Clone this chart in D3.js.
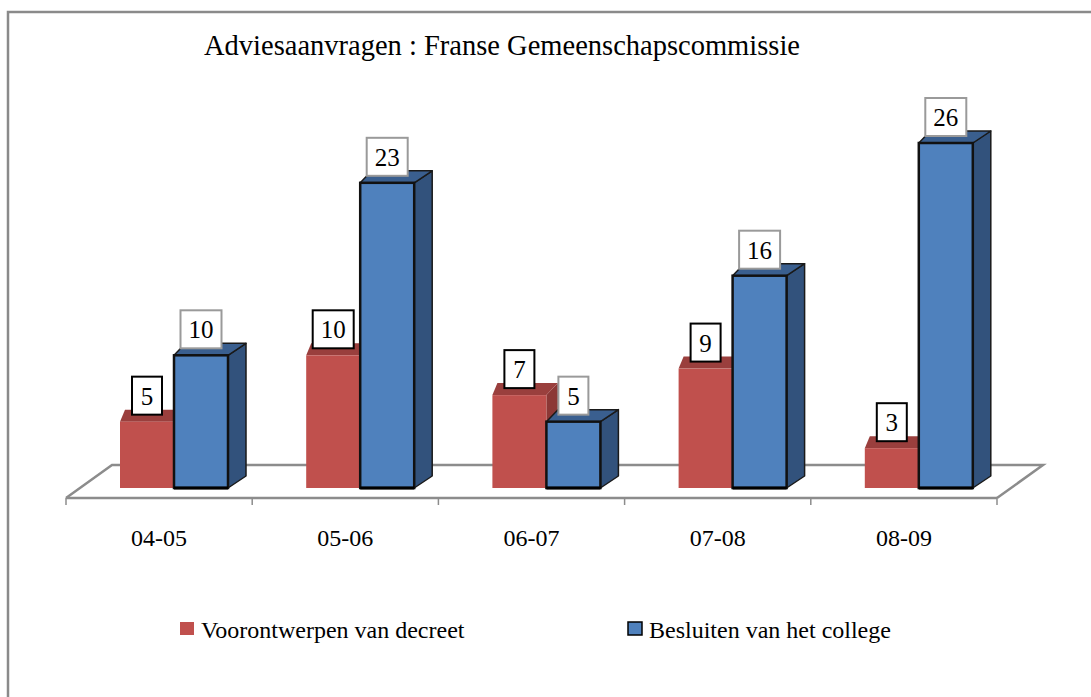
<!DOCTYPE html>
<html>
<head>
<meta charset="utf-8">
<script src="https://cdn.jsdelivr.net/npm/d3@7"></script>
<style>
  body { margin: 0; background: #fff; }
</style>
</head>
<body>
<div id="vis"></div>
<script>
// data
const categories = ["04-05", "05-06", "06-07", "07-08", "08-09"];
const seriesNames = ["Voorontwerpen van decreet", "Besluiten van het college"];
const voorontwerpen = [5, 10, 7, 9, 3];
const besluiten = [10, 23, 5, 16, 26];
const titleText = "Adviesaanvragen : Franse Gemeenschapscommissie";

const WIDTH = 1091;
const HEIGHT = 697;
const FONT = "'Liberation Serif', 'Times New Roman', serif";

const SVG = d3.select("#vis").append("svg")
  .attr("width", WIDTH).attr("height", HEIGHT)
  .attr("font-family", FONT)
  .style("font-family", FONT);

// frame (only top and left edge visible)
SVG.append("path")
  .attr("d", `M8,${HEIGHT} L8,12 L${WIDTH},12`)
  .attr("fill", "none").attr("stroke", "#8a8a8a").attr("stroke-width", 2.5);

SVG.append("text")
  .attr("x", 502).attr("y", 55)
  .attr("text-anchor", "middle")
  .attr("font-size", 28.5)
  .text(titleText);

// floor
const floorFront = 498, floorBack = 465, floorShift = 46;
const baseY = 488; // bars stand here
const x0 = d3.scaleBand().domain(categories).range([66, 997]);
const y = d3.scaleLinear().domain([0, 26]).range([baseY, 143]);

const fl = x0.range()[0], fr = x0.range()[1];
SVG.append("path")
  .attr("d", `M${fl},${floorFront} L${fl + floorShift},${floorBack} L${fr + floorShift},${floorBack} L${fr},${floorFront}`)
  .attr("fill", "none").attr("stroke", "#8c8c8c").attr("stroke-width", 2.5);
SVG.append("line")
  .attr("x1", fl).attr("x2", fr).attr("y1", floorFront).attr("y2", floorFront)
  .attr("stroke", "#8c8c8c").attr("stroke-width", 2.5);

// ticks + category labels
const tickPos = categories.map(c => x0(c)).concat([fr]);
SVG.selectAll(".tick").data(tickPos).join("line")
  .attr("x1", d => d).attr("x2", d => d)
  .attr("y1", floorFront).attr("y2", floorFront + 7)
  .attr("stroke", "#8c8c8c").attr("stroke-width", 1.5);

SVG.selectAll(".cat").data(categories).join("text")
  .attr("x", d => x0(d) + x0.bandwidth() / 2)
  .attr("y", 546)
  .attr("text-anchor", "middle")
  .attr("font-size", 24)
  .text(d => d);

// bars
const x1 = d3.scaleBand().domain(seriesNames).range([0, 108]);
const clusterOffset = 54;
const depthY = -12;
const dxAt = t => 5 + 13 * t; // perspective shift within a cluster

const rows = [];
categories.forEach((c, i) => {
  rows.push({ cat: c, s: 0, v: voorontwerpen[i] });
  rows.push({ cat: c, s: 1, v: besluiten[i] });
});

const colors = [
  { front: "#c0504d", top: "#9a3f3d", side: "#8c3836", stroke: "none", label: "#000" },
  { front: "#4f81bd", top: "#3a5f8f", side: "#32527c", stroke: "#111", label: "#9a9a9a" }
];

rows.forEach(r => {
  const xl = x0(r.cat) + clusterOffset + x1(seriesNames[r.s]);
  const w = x1.bandwidth();
  const tl = x1(seriesNames[r.s]) / 108;
  const tr = (x1(seriesNames[r.s]) + w) / 108;
  const dl = dxAt(tl), dr = dxAt(tr);
  const yt = y(r.v);
  const col = colors[r.s];
  const g = SVG.append("g");

  // side face
  g.append("path")
    .attr("d", `M${xl + w},${yt} L${xl + w + dr},${yt + depthY} L${xl + w + dr},${baseY + depthY} L${xl + w},${baseY} Z`)
    .attr("fill", col.side)
    .attr("stroke", col.stroke === "none" ? "none" : "#1a1a1a").attr("stroke-width", 1.5)
    .attr("stroke-linejoin", "round");
  // top face
  g.append("path")
    .attr("d", `M${xl},${yt} L${xl + dl},${yt + depthY} L${xl + w + dr},${yt + depthY} L${xl + w},${yt} Z`)
    .attr("fill", col.top)
    .attr("stroke", col.stroke === "none" ? "none" : "#1a1a1a").attr("stroke-width", 1.5)
    .attr("stroke-linejoin", "round");
  // front face
  g.append("rect")
    .attr("x", xl).attr("y", yt)
    .attr("width", w).attr("height", baseY - yt)
    .attr("fill", col.front)
    .attr("stroke", col.stroke).attr("stroke-width", 2.5);
  if (r.s === 1) {
    g.append("line")
      .attr("x1", xl).attr("x2", xl + w).attr("y1", baseY).attr("y2", baseY)
      .attr("stroke", "#000").attr("stroke-width", 3);
  }
  r.cx = xl + w / 2;
  r.yt = yt;
});

// value labels
rows.forEach(r => {
  const col = colors[r.s];
  const txt = String(r.v);
  const bw = txt.length > 1 ? 41 : 30;
  const bh = 38;
  const bottom = r.yt - 7;
  SVG.append("rect")
    .attr("x", r.cx - bw / 2).attr("y", bottom - bh)
    .attr("width", bw).attr("height", bh)
    .attr("fill", "#fff")
    .attr("stroke", col.label).attr("stroke-width", 2);
  SVG.append("text")
    .attr("x", r.cx).attr("y", bottom - 10)
    .attr("text-anchor", "middle")
    .attr("font-size", 25)
    .text(txt);
});

// legend
const legend = [
  { name: seriesNames[0], x: 180, fill: "#c0504d", stroke: "none" },
  { name: seriesNames[1], x: 628, fill: "#4f81bd", stroke: "#000" }
];
legend.forEach(l => {
  SVG.append("rect")
    .attr("x", l.x).attr("y", 622)
    .attr("width", 14).attr("height", 13)
    .attr("fill", l.fill).attr("stroke", l.stroke).attr("stroke-width", 1.5);
  SVG.append("text")
    .attr("x", l.x + 21).attr("y", 638)
    .attr("font-size", 24)
    .text(l.name);
});
</script>
</body>
</html>
